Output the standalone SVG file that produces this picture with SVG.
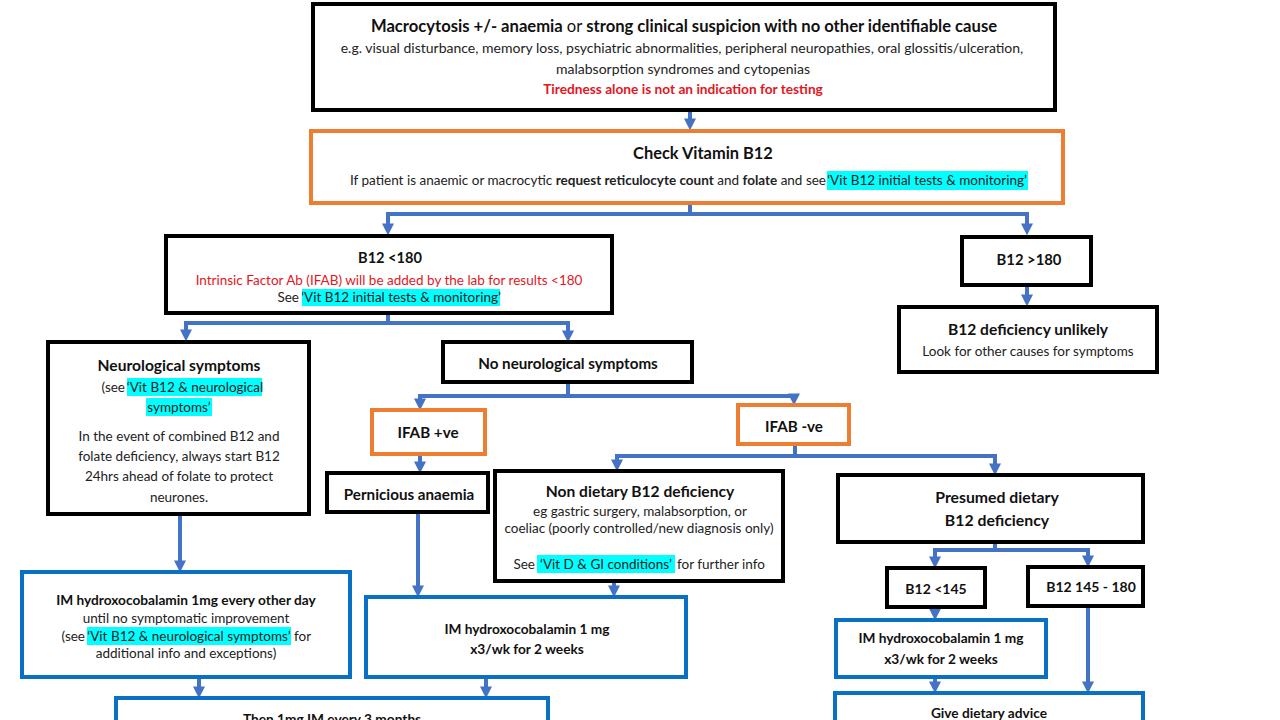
<svg xmlns="http://www.w3.org/2000/svg" width="1280" height="720" viewBox="0 0 1280 720">
<style>
text{font-family:Lato,"Open Sans","Liberation Sans",sans-serif;fill:#222;text-anchor:middle;font-size:13.5px}
.t{font-weight:bold;font-size:15.6px;fill:#111}
.m{font-weight:bold;font-size:15.2px;fill:#111}
.s{font-weight:bold;font-size:13.7px;fill:#111}
.r{fill:#e3161e}
.bk{fill:#fff;stroke:#000;stroke-width:4}
.or{fill:#fff;stroke:#ED7D31;stroke-width:4}
.bl{fill:#fff;stroke:#0A70C6;stroke-width:4}
.hl{fill:#00FFFF}
.c path{fill:none;stroke:#4472C4;stroke-width:4;marker-end:url(#a)}
.e{text-anchor:end}
.st{text-anchor:start}
</style>
<defs>
<marker id="a" viewBox="0 0 10 10" refX="3" refY="5" markerWidth="12" markerHeight="12" orient="auto" markerUnits="userSpaceOnUse">
<path d="M0,0 L10,5 L0,10 z" fill="#4472C4"/>
</marker>
</defs>
<rect width="1280" height="720" fill="#fff"/>

<g class="c" id="connectors">
<path d="M690,110 V122"/>
<path d="M690,203 V214 H388 V227"/>
<path d="M690,214 H1027 V227"/>
<path d="M1027,285 V298"/>
<path d="M388,313 V323 H186 V333"/>
<path d="M388,323 H568 V334"/>
<path d="M568,382 V396 H420 V402"/>
<path d="M568,396 H794 V397"/>
<path d="M420,454 V465"/>
<path d="M795,444 V456 H617 V463"/>
<path d="M795,456 H995 V467"/>
<path d="M180,514 V564"/>
<path d="M418,512 V589"/>
<path d="M614,581 V589"/>
<path d="M995,542 V550 H935 V560"/>
<path d="M995,550 H1088 V559"/>
<path d="M935,607 V612"/>
<path d="M935,677 V685"/>
<path d="M1088,606 V685"/>
<path d="M199,677 V690"/>
<path d="M486,677 V690"/>
</g>

<g id="n_start">
<rect class="bk" x="313" y="4" width="742" height="106"/>
<text x="684" y="32" class="t" style="font-size:16.6px">Macrocytosis +/- anaemia <tspan style="font-weight:normal">or</tspan> strong clinical suspicion with no other identifiable cause</text>
<text x="682" y="53" style="font-size:14px">e.g. visual disturbance, memory loss, psychiatric abnormalities, peripheral neuropathies, oral glossitis/ulceration,</text>
<text x="683" y="74" style="font-size:14px">malabsorption syndromes and cytopenias</text>
<text x="683" y="94" class="s r">Tiredness alone is not an indication for testing</text>
</g>

<g id="n_check">
<rect class="or" x="311" y="131" width="752" height="72"/>
<text x="703" y="159" class="t" style="font-size:16.4px">Check Vitamin B12</text>
<rect class="hl" x="827" y="171" width="201" height="19"/>
<text x="826" y="185" class="e">If patient is anaemic or macrocytic <tspan style="font-weight:bold">request reticulocyte count</tspan> and <tspan style="font-weight:bold">folate</tspan> and see</text>
<text x="927" y="185">‘Vit B12 initial tests &amp; monitoring’</text>
</g>

<g id="n_lt180">
<rect class="bk" x="166" y="236" width="446" height="77"/>
<text x="390" y="263" class="t" style="font-size:14.6px">B12 &lt;180</text>
<text x="389" y="285" class="r">Intrinsic Factor Ab (IFAB) will be added by the lab for results &lt;180</text>
<rect class="hl" x="302" y="289" width="198" height="17"/>
<text x="299" y="302" class="e">See</text>
<text x="401" y="302">‘Vit B12 initial tests &amp; monitoring’</text>
</g>

<g id="n_gt180">
<rect class="bk" x="962" y="237" width="129" height="48"/>
<text x="1029" y="265" class="m" style="font-size:14.8px">B12 &gt;180</text>
</g>

<g id="n_unlikely">
<rect class="bk" x="899" y="307" width="258" height="65"/>
<text x="1028" y="335" class="t">B12 deficiency unlikely</text>
<text x="1028" y="356">Look for other causes for symptoms</text>
</g>

<g id="n_neuro">
<rect class="bk" x="48" y="342" width="261" height="172"/>
<text x="179" y="371" class="t">Neurological symptoms</text>
<rect class="hl" x="127" y="378" width="135" height="18"/>
<text x="125" y="392" class="e">(see</text>
<text x="195" y="392">‘Vit B12 &amp; neurological</text>
<rect class="hl" x="146" y="398" width="66" height="18"/>
<text x="179" y="412">symptoms’</text>
<text x="179" y="441">In the event of combined B12 and</text>
<text x="179" y="461">folate deficiency, always start B12</text>
<text x="179" y="481">24hrs ahead of folate to protect</text>
<text x="179" y="502">neurones.</text>
</g>

<g id="n_noneuro">
<rect class="bk" x="443" y="342" width="249" height="40"/>
<text x="568" y="369" class="m">No neurological symptoms</text>
</g>

<g id="n_ifabpos">
<rect class="or" x="372" y="410" width="113" height="44"/>
<text x="428" y="438" class="m">IFAB +ve</text>
</g>

<g id="n_ifabneg">
<rect class="or" x="738" y="405" width="111" height="39"/>
<text x="794" y="432" class="m">IFAB -ve</text>
</g>

<g id="n_pernicious">
<rect class="bk" x="327" y="473" width="161" height="39"/>
<text x="409" y="500" class="m">Pernicious anaemia</text>
</g>

<g id="n_nondietary">
<rect class="bk" x="495" y="471" width="288" height="110"/>
<text x="640" y="497" class="t">Non dietary B12 deficiency</text>
<text x="640" y="516">eg gastric surgery, malabsorption, or</text>
<text x="639" y="533">coeliac (poorly controlled/new diagnosis only)</text>
<rect class="hl" x="537" y="555" width="138" height="18"/>
<text x="535" y="569" class="e">See</text>
<text x="606" y="569">‘Vit D &amp; GI conditions’</text>
<text x="677" y="569" class="st">for further info</text>
</g>

<g id="n_presumed">
<rect class="bk" x="838" y="475" width="305" height="67"/>
<text x="997" y="503" class="t" style="font-size:15.8px">Presumed dietary</text>
<text x="997" y="526" class="t" style="font-size:15.8px">B12 deficiency</text>
</g>

<g id="n_lt145">
<rect class="bk" x="887" y="568" width="98" height="39"/>
<text x="936" y="594" class="m" style="font-size:14px">B12 &lt;145</text>
</g>

<g id="n_145_180">
<rect class="bk" x="1028" y="567" width="115" height="39"/>
<text x="1091" y="592" class="m" style="font-size:14px">B12 145 - 180</text>
</g>

<g id="n_im_neuro">
<rect class="bl" x="22" y="572" width="328" height="105"/>
<text x="186" y="605" class="s">IM hydroxocobalamin 1mg every other day</text>
<text x="186" y="623">until no symptomatic improvement</text>
<rect class="hl" x="87" y="627" width="204" height="18"/>
<text x="85" y="641" class="e">(see</text>
<text x="189" y="641">‘Vit B12 &amp; neurological symptoms’</text>
<text x="294" y="641" class="st">for</text>
<text x="186" y="658">additional info and exceptions)</text>
</g>

<g id="n_im_mid">
<rect class="bl" x="366" y="597" width="320" height="80"/>
<text x="527" y="634" class="s">IM hydroxocobalamin 1 mg</text>
<text x="527" y="654" class="s">x3/wk for 2 weeks</text>
</g>

<g id="n_im_right">
<rect class="bl" x="836" y="620" width="210" height="57"/>
<text x="941" y="643" class="s">IM hydroxocobalamin 1 mg</text>
<text x="941" y="664" class="s">x3/wk for 2 weeks</text>
</g>

<g id="n_maint">
<rect class="bl" x="116" y="698" width="432" height="40"/>
<text x="332" y="724" class="s">Then 1mg IM every 3 months</text>
</g>

<g id="n_diet">
<rect class="bl" x="835" y="693" width="308" height="45"/>
<text x="989" y="718" class="s">Give dietary advice</text>
</g>
</svg>
